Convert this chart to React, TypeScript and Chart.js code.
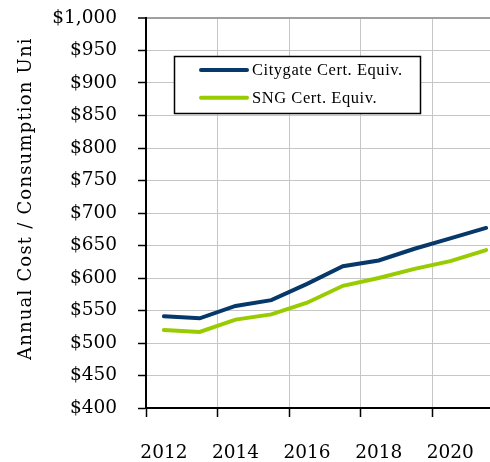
import { useEffect, useRef } from 'react';
import { Chart, registerables } from 'chart.js';

Chart.register(...registerables);

const years = ['2012', '2013', '2014', '2015', '2016', '2017', '2018', '2019', '2020', '2021'];
const citygateCost = [541, 538, 557, 566, 591, 618, 627, 645, 661, 677];
const sngCost = [520, 517, 536, 544, 562, 588, 600, 614, 626, 643];
const seriesNames = ['Citygate Cert. Equiv.', 'SNG Cert. Equiv.'];
const yAxisTitle = 'Annual Cost / Consumption Uni';
const yMin = 400;
const yMax = 1000;
const yStep = 50;

const TICK_FONT = { family: '"DejaVu Serif", serif', size: 18.5 };

const boxLegend = {
  id: 'boxLegend',
  afterDraw(chart: any) {
    const ctx = chart.ctx as CanvasRenderingContext2D;
    ctx.save();
    ctx.fillStyle = '#ffffff';
    ctx.fillRect(174.5, 56.5, 246, 57);
    ctx.strokeStyle = '#000000';
    ctx.lineWidth = 1.5;
    ctx.strokeRect(174.5, 56.5, 246, 57);
    chart.data.datasets.forEach((ds: any, i: number) => {
      const y = 70 + i * 27.7;
      ctx.beginPath();
      ctx.strokeStyle = ds.borderColor;
      ctx.lineWidth = 4;
      ctx.lineCap = 'round';
      ctx.moveTo(201, y);
      ctx.lineTo(247, y);
      ctx.stroke();
      ctx.fillStyle = '#000000';
      ctx.font = '16.5px "Liberation Serif", serif';
      (ctx as any).letterSpacing = '0.55px';
      ctx.textAlign = 'left';
      ctx.textBaseline = 'alphabetic';
      ctx.fillText(ds.label, 252, y + 5);
    });
    ctx.restore();
  },
};

const sideTitle = {
  id: 'sideTitle',
  afterDraw(chart: any) {
    const ctx = chart.ctx as CanvasRenderingContext2D;
    ctx.save();
    ctx.translate(26, 360);
    ctx.rotate(-Math.PI / 2);
    ctx.fillStyle = '#000000';
    ctx.font = '18px "DejaVu Serif", serif';
    (ctx as any).letterSpacing = '1.2px';
    ctx.textAlign = 'left';
    ctx.textBaseline = 'middle';
    ctx.fillText(yAxisTitle, 0, 0);
    ctx.restore();
  },
};

export default function App() {
  const canvasRef = useRef<HTMLCanvasElement | null>(null);

  useEffect(() => {
    if (!canvasRef.current) return;
    const chart = new Chart(canvasRef.current, {
      type: 'line',
      data: {
        labels: years,
        datasets: [
          {
            label: seriesNames[0],
            data: citygateCost,
            borderColor: '#06386a',
            backgroundColor: '#06386a',
            borderWidth: 4,
            borderCapStyle: 'round',
            pointRadius: 0,
            tension: 0,
          },
          {
            label: seriesNames[1],
            data: sngCost,
            borderColor: '#99cc00',
            backgroundColor: '#99cc00',
            borderWidth: 4,
            borderCapStyle: 'round',
            pointRadius: 0,
            tension: 0,
          },
        ],
      },
      options: {
        responsive: false,
        animation: false,
        layout: { padding: { left: 0, right: 16, top: 18, bottom: 0 } },
        plugins: {
          legend: { display: false },
          tooltip: { enabled: false },
          title: { display: false },
        },
        scales: {
          x: {
            type: 'category',
            offset: true,
            afterFit: (scale: any) => {
              scale.height = 54;
              scale.paddingLeft = 0;
              scale.paddingRight = 0;
            },
            grid: {
              offset: true,
              drawOnChartArea: true,
              tickLength: 9,
              lineWidth: 1,
              color: (c: any) => (c.index % 2 === 0 ? '#c6c6c6' : 'rgba(0,0,0,0)'),
              tickColor: (c: any) => (c.index % 2 === 0 ? '#000000' : 'rgba(0,0,0,0)'),
              tickWidth: 1.5,
            },
            border: { color: '#000000', width: 2 },
            ticks: {
              autoSkip: false,
              maxRotation: 0,
              padding: 25,
              color: '#000000',
              font: TICK_FONT,
              callback: (_v: any, i: number) => (i % 2 === 0 ? years[i] : ''),
            },
          },
          y: {
            min: yMin,
            max: yMax,
            afterFit: (scale: any) => {
              scale.width = 146;
              scale.paddingTop = 0;
              scale.paddingBottom = 0;
            },
            grid: {
              tickLength: 8,
              color: (c: any) => (c.tick && c.tick.value === yMax ? '#a0a0a0' : '#c6c6c6'),
              lineWidth: (c: any) => (c.tick && c.tick.value === yMax ? 2 : 1),
              tickColor: '#000000',
              tickWidth: 1.5,
            },
            border: { color: '#000000', width: 2 },
            ticks: {
              stepSize: yStep,
              padding: 21,
              color: '#000000',
              font: TICK_FONT,
              callback: (v: any) => '$' + Number(v).toLocaleString('en-US'),
            },
          },
        },
      },
      plugins: [boxLegend, sideTitle],
    } as any);
    return () => chart.destroy();
  }, []);

  return (
    <div
      style={{
        position: 'fixed',
        left: 0,
        top: 0,
        width: 490,
        height: 462,
        overflow: 'hidden',
        background: '#ffffff',
      }}
    >
      <canvas ref={canvasRef} width={520} height={462} style={{ display: 'block' }} />
    </div>
  );
}
